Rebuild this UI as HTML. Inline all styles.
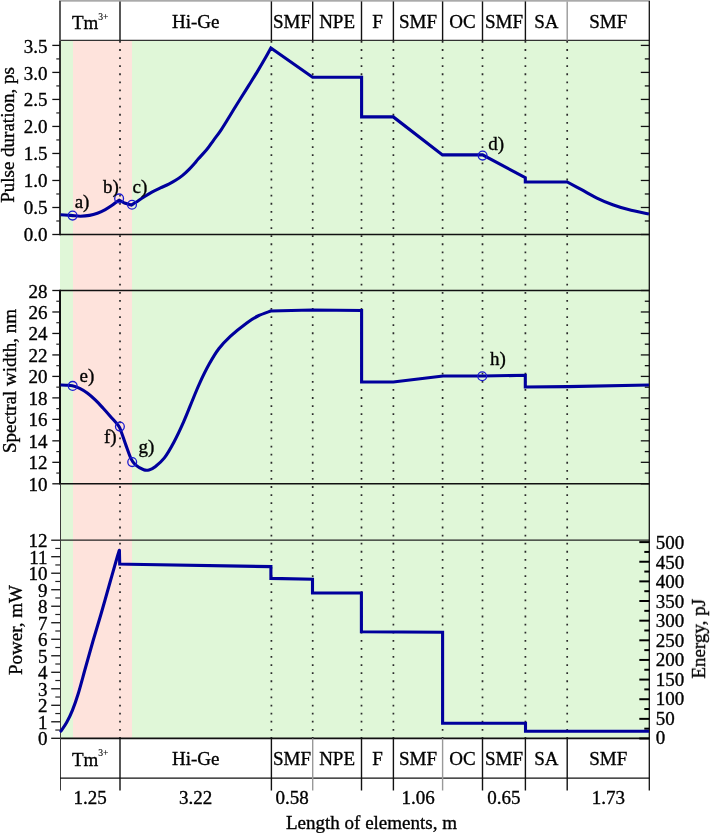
<!DOCTYPE html><html><head><meta charset="utf-8"><style>html,body{margin:0;padding:0;background:#fff;}svg{display:block;}text{font-family:"Liberation Serif", serif;fill:#000;stroke:#000;stroke-width:0.35px;}</style></head><body>
<svg width="710" height="833" viewBox="0 0 710 833">
<rect x="0" y="0" width="710" height="833" fill="#fff"/>
<rect x="60" y="40.4" width="589.30" height="697.90" fill="#e0f7d8"/>
<rect x="73" y="40.4" width="59" height="697.90" fill="#fee3dc"/>
<line x1="120.00" y1="41.00" x2="120.00" y2="738.00" stroke="#2a2a2a" stroke-width="1.7" stroke-dasharray="1.8 6.293"/>
<line x1="271.40" y1="41.00" x2="271.40" y2="738.00" stroke="#2a2a2a" stroke-width="1.7" stroke-dasharray="1.8 6.293"/>
<line x1="312.70" y1="41.00" x2="312.70" y2="738.00" stroke="#2a2a2a" stroke-width="1.7" stroke-dasharray="1.8 6.293"/>
<line x1="361.50" y1="41.00" x2="361.50" y2="738.00" stroke="#2a2a2a" stroke-width="1.7" stroke-dasharray="1.8 6.293"/>
<line x1="393.40" y1="41.00" x2="393.40" y2="738.00" stroke="#2a2a2a" stroke-width="1.7" stroke-dasharray="1.8 6.293"/>
<line x1="442.60" y1="41.00" x2="442.60" y2="738.00" stroke="#2a2a2a" stroke-width="1.7" stroke-dasharray="1.8 6.293"/>
<line x1="482.50" y1="41.00" x2="482.50" y2="738.00" stroke="#2a2a2a" stroke-width="1.7" stroke-dasharray="1.8 6.293"/>
<line x1="525.40" y1="41.00" x2="525.40" y2="738.00" stroke="#2a2a2a" stroke-width="1.7" stroke-dasharray="1.8 6.293"/>
<line x1="567.20" y1="41.00" x2="567.20" y2="738.00" stroke="#2a2a2a" stroke-width="1.7" stroke-dasharray="1.8 6.293"/>
<rect x="59" y="0" width="591" height="1.7" fill="#aaaaaa"/>
<line x1="60.50" y1="40.40" x2="649.30" y2="40.40" stroke="#333" stroke-width="1.1" />
<line x1="120.00" y1="1.40" x2="120.00" y2="40.40" stroke="#111" stroke-width="1.4" />
<line x1="271.40" y1="1.40" x2="271.40" y2="40.40" stroke="#111" stroke-width="1.4" />
<line x1="312.70" y1="1.40" x2="312.70" y2="40.40" stroke="#111" stroke-width="1.4" />
<line x1="361.50" y1="1.40" x2="361.50" y2="40.40" stroke="#111" stroke-width="1.4" />
<line x1="393.40" y1="1.40" x2="393.40" y2="40.40" stroke="#111" stroke-width="1.4" />
<line x1="442.60" y1="1.40" x2="442.60" y2="40.40" stroke="#111" stroke-width="1.4" />
<line x1="482.50" y1="1.40" x2="482.50" y2="40.40" stroke="#111" stroke-width="1.4" />
<line x1="525.40" y1="1.40" x2="525.40" y2="40.40" stroke="#111" stroke-width="1.4" />
<line x1="567.20" y1="1.40" x2="567.20" y2="40.40" stroke="#999" stroke-width="1.4" />
<line x1="60.00" y1="234.50" x2="649.30" y2="234.50" stroke="#111" stroke-width="1.7" />
<line x1="60.00" y1="290.50" x2="649.30" y2="290.50" stroke="#111" stroke-width="1.5" />
<line x1="60.00" y1="483.80" x2="649.30" y2="483.80" stroke="#111" stroke-width="1.6" />
<line x1="60.00" y1="540.20" x2="649.30" y2="540.20" stroke="#222" stroke-width="1.2" />
<line x1="60.00" y1="738.30" x2="649.30" y2="738.30" stroke="#111" stroke-width="1.8" />
<line x1="60.00" y1="1.00" x2="60.00" y2="40.40" stroke="#4a4a4a" stroke-width="1.8" />
<line x1="60.00" y1="40.40" x2="60.00" y2="235.30" stroke="#111" stroke-width="1.7" />
<line x1="60.00" y1="289.80" x2="60.00" y2="484.50" stroke="#111" stroke-width="2.0" />
<line x1="60.50" y1="483.80" x2="60.50" y2="790.50" stroke="#3c3c3c" stroke-width="1.0" />
<line x1="649.30" y1="1.00" x2="649.30" y2="790.50" stroke="#111" stroke-width="1.3" />
<line x1="60.00" y1="778.20" x2="649.30" y2="778.20" stroke="#111" stroke-width="1.3" />
<line x1="120.00" y1="738.30" x2="120.00" y2="790.50" stroke="#111" stroke-width="1.4" />
<line x1="271.40" y1="738.30" x2="271.40" y2="790.50" stroke="#111" stroke-width="1.4" />
<line x1="312.70" y1="738.30" x2="312.70" y2="790.50" stroke="#999" stroke-width="1.4" />
<line x1="361.50" y1="738.30" x2="361.50" y2="790.50" stroke="#111" stroke-width="1.4" />
<line x1="393.40" y1="738.30" x2="393.40" y2="790.50" stroke="#111" stroke-width="1.4" />
<line x1="442.60" y1="738.30" x2="442.60" y2="790.50" stroke="#999" stroke-width="1.4" />
<line x1="482.50" y1="738.30" x2="482.50" y2="790.50" stroke="#111" stroke-width="1.4" />
<line x1="525.40" y1="738.30" x2="525.40" y2="790.50" stroke="#111" stroke-width="1.4" />
<line x1="567.20" y1="738.30" x2="567.20" y2="790.50" stroke="#111" stroke-width="1.4" />
<line x1="52.30" y1="234.50" x2="60.00" y2="234.50" stroke="#111" stroke-width="1.3" />
<line x1="56.30" y1="220.99" x2="60.00" y2="220.99" stroke="#222" stroke-width="1.2" />
<line x1="52.30" y1="207.49" x2="60.00" y2="207.49" stroke="#111" stroke-width="1.3" />
<line x1="56.30" y1="193.98" x2="60.00" y2="193.98" stroke="#222" stroke-width="1.2" />
<line x1="52.30" y1="180.47" x2="60.00" y2="180.47" stroke="#111" stroke-width="1.3" />
<line x1="56.30" y1="166.96" x2="60.00" y2="166.96" stroke="#222" stroke-width="1.2" />
<line x1="52.30" y1="153.46" x2="60.00" y2="153.46" stroke="#111" stroke-width="1.3" />
<line x1="56.30" y1="139.95" x2="60.00" y2="139.95" stroke="#222" stroke-width="1.2" />
<line x1="52.30" y1="126.44" x2="60.00" y2="126.44" stroke="#111" stroke-width="1.3" />
<line x1="56.30" y1="112.94" x2="60.00" y2="112.94" stroke="#222" stroke-width="1.2" />
<line x1="52.30" y1="99.43" x2="60.00" y2="99.43" stroke="#111" stroke-width="1.3" />
<line x1="56.30" y1="85.92" x2="60.00" y2="85.92" stroke="#222" stroke-width="1.2" />
<line x1="52.30" y1="72.41" x2="60.00" y2="72.41" stroke="#111" stroke-width="1.3" />
<line x1="56.30" y1="58.91" x2="60.00" y2="58.91" stroke="#222" stroke-width="1.2" />
<line x1="52.30" y1="45.40" x2="60.00" y2="45.40" stroke="#111" stroke-width="1.3" />
<line x1="640.80" y1="234.50" x2="649.30" y2="234.50" stroke="#111" stroke-width="1.3" />
<line x1="644.80" y1="220.99" x2="649.30" y2="220.99" stroke="#111" stroke-width="1.3" />
<line x1="640.80" y1="207.49" x2="649.30" y2="207.49" stroke="#111" stroke-width="1.3" />
<line x1="644.80" y1="193.98" x2="649.30" y2="193.98" stroke="#111" stroke-width="1.3" />
<line x1="640.80" y1="180.47" x2="649.30" y2="180.47" stroke="#111" stroke-width="1.3" />
<line x1="644.80" y1="166.96" x2="649.30" y2="166.96" stroke="#111" stroke-width="1.3" />
<line x1="640.80" y1="153.46" x2="649.30" y2="153.46" stroke="#111" stroke-width="1.3" />
<line x1="644.80" y1="139.95" x2="649.30" y2="139.95" stroke="#111" stroke-width="1.3" />
<line x1="640.80" y1="126.44" x2="649.30" y2="126.44" stroke="#111" stroke-width="1.3" />
<line x1="644.80" y1="112.94" x2="649.30" y2="112.94" stroke="#111" stroke-width="1.3" />
<line x1="640.80" y1="99.43" x2="649.30" y2="99.43" stroke="#111" stroke-width="1.3" />
<line x1="644.80" y1="85.92" x2="649.30" y2="85.92" stroke="#111" stroke-width="1.3" />
<line x1="640.80" y1="72.41" x2="649.30" y2="72.41" stroke="#111" stroke-width="1.3" />
<line x1="644.80" y1="58.91" x2="649.30" y2="58.91" stroke="#111" stroke-width="1.3" />
<line x1="640.80" y1="45.40" x2="649.30" y2="45.40" stroke="#111" stroke-width="1.3" />
<line x1="52.30" y1="483.80" x2="60.00" y2="483.80" stroke="#111" stroke-width="1.3" />
<line x1="56.30" y1="473.06" x2="60.00" y2="473.06" stroke="#222" stroke-width="1.2" />
<line x1="52.30" y1="462.32" x2="60.00" y2="462.32" stroke="#111" stroke-width="1.3" />
<line x1="56.30" y1="451.58" x2="60.00" y2="451.58" stroke="#222" stroke-width="1.2" />
<line x1="52.30" y1="440.84" x2="60.00" y2="440.84" stroke="#111" stroke-width="1.3" />
<line x1="56.30" y1="430.11" x2="60.00" y2="430.11" stroke="#222" stroke-width="1.2" />
<line x1="52.30" y1="419.37" x2="60.00" y2="419.37" stroke="#111" stroke-width="1.3" />
<line x1="56.30" y1="408.63" x2="60.00" y2="408.63" stroke="#222" stroke-width="1.2" />
<line x1="52.30" y1="397.89" x2="60.00" y2="397.89" stroke="#111" stroke-width="1.3" />
<line x1="56.30" y1="387.15" x2="60.00" y2="387.15" stroke="#222" stroke-width="1.2" />
<line x1="52.30" y1="376.41" x2="60.00" y2="376.41" stroke="#111" stroke-width="1.3" />
<line x1="56.30" y1="365.67" x2="60.00" y2="365.67" stroke="#222" stroke-width="1.2" />
<line x1="52.30" y1="354.93" x2="60.00" y2="354.93" stroke="#111" stroke-width="1.3" />
<line x1="56.30" y1="344.19" x2="60.00" y2="344.19" stroke="#222" stroke-width="1.2" />
<line x1="52.30" y1="333.46" x2="60.00" y2="333.46" stroke="#111" stroke-width="1.3" />
<line x1="56.30" y1="322.72" x2="60.00" y2="322.72" stroke="#222" stroke-width="1.2" />
<line x1="52.30" y1="311.98" x2="60.00" y2="311.98" stroke="#111" stroke-width="1.3" />
<line x1="56.30" y1="301.24" x2="60.00" y2="301.24" stroke="#222" stroke-width="1.2" />
<line x1="52.30" y1="290.50" x2="60.00" y2="290.50" stroke="#111" stroke-width="1.3" />
<line x1="640.80" y1="483.80" x2="649.30" y2="483.80" stroke="#111" stroke-width="1.3" />
<line x1="644.80" y1="473.06" x2="649.30" y2="473.06" stroke="#111" stroke-width="1.3" />
<line x1="640.80" y1="462.32" x2="649.30" y2="462.32" stroke="#111" stroke-width="1.3" />
<line x1="644.80" y1="451.58" x2="649.30" y2="451.58" stroke="#111" stroke-width="1.3" />
<line x1="640.80" y1="440.84" x2="649.30" y2="440.84" stroke="#111" stroke-width="1.3" />
<line x1="644.80" y1="430.11" x2="649.30" y2="430.11" stroke="#111" stroke-width="1.3" />
<line x1="640.80" y1="419.37" x2="649.30" y2="419.37" stroke="#111" stroke-width="1.3" />
<line x1="644.80" y1="408.63" x2="649.30" y2="408.63" stroke="#111" stroke-width="1.3" />
<line x1="640.80" y1="397.89" x2="649.30" y2="397.89" stroke="#111" stroke-width="1.3" />
<line x1="644.80" y1="387.15" x2="649.30" y2="387.15" stroke="#111" stroke-width="1.3" />
<line x1="640.80" y1="376.41" x2="649.30" y2="376.41" stroke="#111" stroke-width="1.3" />
<line x1="644.80" y1="365.67" x2="649.30" y2="365.67" stroke="#111" stroke-width="1.3" />
<line x1="640.80" y1="354.93" x2="649.30" y2="354.93" stroke="#111" stroke-width="1.3" />
<line x1="644.80" y1="344.19" x2="649.30" y2="344.19" stroke="#111" stroke-width="1.3" />
<line x1="640.80" y1="333.46" x2="649.30" y2="333.46" stroke="#111" stroke-width="1.3" />
<line x1="644.80" y1="322.72" x2="649.30" y2="322.72" stroke="#111" stroke-width="1.3" />
<line x1="640.80" y1="311.98" x2="649.30" y2="311.98" stroke="#111" stroke-width="1.3" />
<line x1="644.80" y1="301.24" x2="649.30" y2="301.24" stroke="#111" stroke-width="1.3" />
<line x1="640.80" y1="290.50" x2="649.30" y2="290.50" stroke="#111" stroke-width="1.3" />
<line x1="51.20" y1="738.30" x2="60.00" y2="738.30" stroke="#111" stroke-width="1.3" />
<line x1="55.30" y1="730.05" x2="60.00" y2="730.05" stroke="#222" stroke-width="1.2" />
<line x1="51.20" y1="721.79" x2="60.00" y2="721.79" stroke="#111" stroke-width="1.3" />
<line x1="55.30" y1="713.54" x2="60.00" y2="713.54" stroke="#222" stroke-width="1.2" />
<line x1="51.20" y1="705.28" x2="60.00" y2="705.28" stroke="#111" stroke-width="1.3" />
<line x1="55.30" y1="697.03" x2="60.00" y2="697.03" stroke="#222" stroke-width="1.2" />
<line x1="51.20" y1="688.77" x2="60.00" y2="688.77" stroke="#111" stroke-width="1.3" />
<line x1="55.30" y1="680.52" x2="60.00" y2="680.52" stroke="#222" stroke-width="1.2" />
<line x1="51.20" y1="672.27" x2="60.00" y2="672.27" stroke="#111" stroke-width="1.3" />
<line x1="55.30" y1="664.01" x2="60.00" y2="664.01" stroke="#222" stroke-width="1.2" />
<line x1="51.20" y1="655.76" x2="60.00" y2="655.76" stroke="#111" stroke-width="1.3" />
<line x1="55.30" y1="647.50" x2="60.00" y2="647.50" stroke="#222" stroke-width="1.2" />
<line x1="51.20" y1="639.25" x2="60.00" y2="639.25" stroke="#111" stroke-width="1.3" />
<line x1="55.30" y1="631.00" x2="60.00" y2="631.00" stroke="#222" stroke-width="1.2" />
<line x1="51.20" y1="622.74" x2="60.00" y2="622.74" stroke="#111" stroke-width="1.3" />
<line x1="55.30" y1="614.49" x2="60.00" y2="614.49" stroke="#222" stroke-width="1.2" />
<line x1="51.20" y1="606.23" x2="60.00" y2="606.23" stroke="#111" stroke-width="1.3" />
<line x1="55.30" y1="597.98" x2="60.00" y2="597.98" stroke="#222" stroke-width="1.2" />
<line x1="51.20" y1="589.73" x2="60.00" y2="589.73" stroke="#111" stroke-width="1.3" />
<line x1="55.30" y1="581.47" x2="60.00" y2="581.47" stroke="#222" stroke-width="1.2" />
<line x1="51.20" y1="573.22" x2="60.00" y2="573.22" stroke="#111" stroke-width="1.3" />
<line x1="55.30" y1="564.96" x2="60.00" y2="564.96" stroke="#222" stroke-width="1.2" />
<line x1="51.20" y1="556.71" x2="60.00" y2="556.71" stroke="#111" stroke-width="1.3" />
<line x1="55.30" y1="548.45" x2="60.00" y2="548.45" stroke="#222" stroke-width="1.2" />
<line x1="51.20" y1="540.20" x2="60.00" y2="540.20" stroke="#111" stroke-width="1.3" />
<line x1="639.30" y1="738.50" x2="649.30" y2="738.50" stroke="#000" stroke-width="2.0" />
<line x1="644.30" y1="728.68" x2="649.30" y2="728.68" stroke="#000" stroke-width="2.0" />
<line x1="639.30" y1="718.86" x2="649.30" y2="718.86" stroke="#000" stroke-width="2.0" />
<line x1="644.30" y1="709.04" x2="649.30" y2="709.04" stroke="#000" stroke-width="2.0" />
<line x1="639.30" y1="699.22" x2="649.30" y2="699.22" stroke="#000" stroke-width="2.0" />
<line x1="644.30" y1="689.40" x2="649.30" y2="689.40" stroke="#000" stroke-width="2.0" />
<line x1="639.30" y1="679.58" x2="649.30" y2="679.58" stroke="#000" stroke-width="2.0" />
<line x1="644.30" y1="669.76" x2="649.30" y2="669.76" stroke="#000" stroke-width="2.0" />
<line x1="639.30" y1="659.94" x2="649.30" y2="659.94" stroke="#000" stroke-width="2.0" />
<line x1="644.30" y1="650.12" x2="649.30" y2="650.12" stroke="#000" stroke-width="2.0" />
<line x1="639.30" y1="640.30" x2="649.30" y2="640.30" stroke="#000" stroke-width="2.0" />
<line x1="644.30" y1="630.48" x2="649.30" y2="630.48" stroke="#000" stroke-width="2.0" />
<line x1="639.30" y1="620.66" x2="649.30" y2="620.66" stroke="#000" stroke-width="2.0" />
<line x1="644.30" y1="610.84" x2="649.30" y2="610.84" stroke="#000" stroke-width="2.0" />
<line x1="639.30" y1="601.02" x2="649.30" y2="601.02" stroke="#000" stroke-width="2.0" />
<line x1="644.30" y1="591.20" x2="649.30" y2="591.20" stroke="#000" stroke-width="2.0" />
<line x1="639.30" y1="581.38" x2="649.30" y2="581.38" stroke="#000" stroke-width="2.0" />
<line x1="644.30" y1="571.56" x2="649.30" y2="571.56" stroke="#000" stroke-width="2.0" />
<line x1="639.30" y1="561.74" x2="649.30" y2="561.74" stroke="#000" stroke-width="2.0" />
<line x1="644.30" y1="551.92" x2="649.30" y2="551.92" stroke="#000" stroke-width="2.0" />
<line x1="639.30" y1="542.10" x2="649.30" y2="542.10" stroke="#000" stroke-width="2.0" />
<path d="M60.50,214.70 C61.77,214.78 66.08,215.05 68.10,215.20 C70.12,215.35 70.53,215.43 72.60,215.60 C74.67,215.77 77.68,216.23 80.50,216.20 C83.32,216.17 86.68,215.90 89.50,215.40 C92.32,214.90 94.77,214.17 97.40,213.20 C100.03,212.23 102.85,210.92 105.30,209.60 C107.75,208.28 110.12,206.67 112.10,205.30 C114.08,203.93 116.00,202.25 117.20,201.40 C118.40,200.55 118.95,200.40 119.30,200.20 L124.50,203.00 L131.30,205.10 C132.05,204.63 133.77,203.62 135.80,202.30 C137.83,200.98 140.82,198.90 143.50,197.20 C146.18,195.50 149.08,193.65 151.90,192.10 C154.72,190.55 157.58,189.23 160.40,187.90 C163.22,186.57 166.27,185.37 168.80,184.10 C171.33,182.83 173.35,181.72 175.60,180.30 C177.85,178.88 180.05,177.43 182.30,175.60 C184.55,173.77 187.12,171.27 189.10,169.30 C191.08,167.33 192.65,165.55 194.20,163.80 C195.75,162.05 196.30,161.17 198.40,158.80 C200.50,156.43 204.28,152.68 206.80,149.60 C209.32,146.52 211.25,143.38 213.50,140.30 C215.75,137.22 218.05,134.40 220.30,131.10 C222.55,127.80 224.77,124.10 227.00,120.50 C229.23,116.90 231.47,113.12 233.70,109.50 C235.93,105.88 237.88,102.82 240.40,98.80 C242.92,94.78 246.00,89.88 248.80,85.40 C251.60,80.92 254.40,76.53 257.20,71.90 C260.00,67.27 263.32,61.58 265.60,57.60 C267.88,53.62 270.02,49.60 270.90,48.00 L312.60,77.20 L361.60,77.20 L361.60,116.90 L393.30,116.90 L442.50,154.90 L482.60,154.90 L525.30,177.60 L525.30,182.00 L567.20,182.00 C569.52,183.23 576.15,186.72 581.10,189.40 C586.05,192.08 591.63,195.53 596.90,198.10 C602.17,200.67 607.45,202.88 612.70,204.80 C617.95,206.72 622.35,208.07 628.40,209.60 C634.45,211.13 645.57,213.27 649.00,214.00" fill="none" stroke="#00009c" stroke-width="3.1" stroke-linejoin="miter" stroke-miterlimit="10"/>
<path d="M60.50,385.00 C61.42,385.03 64.03,385.07 66.00,385.20 C67.97,385.33 70.02,385.28 72.30,385.80 C74.58,386.32 77.15,387.07 79.70,388.30 C82.25,389.53 84.97,391.23 87.60,393.20 C90.23,395.17 92.87,397.55 95.50,400.10 C98.13,402.65 100.77,405.62 103.40,408.50 C106.03,411.38 108.77,414.50 111.30,417.40 C113.83,420.30 116.92,423.43 118.60,425.90 C120.28,428.37 120.18,429.00 121.40,432.20 C122.62,435.40 124.28,440.65 125.90,445.10 C127.52,449.55 129.50,455.60 131.10,458.90 C132.70,462.20 133.40,463.08 135.50,464.90 C137.60,466.72 141.45,468.95 143.70,469.80 C145.95,470.65 147.15,470.47 149.00,470.00 C150.85,469.53 152.23,469.02 154.80,467.00 C157.37,464.98 161.20,462.07 164.40,457.90 C167.60,453.73 170.80,448.00 174.00,442.00 C177.20,436.00 180.47,428.98 183.60,421.90 C186.73,414.82 190.13,405.93 192.80,399.50 C195.47,393.07 196.87,389.20 199.60,383.30 C202.33,377.40 206.00,369.85 209.20,364.10 C212.40,358.35 215.28,353.43 218.80,348.80 C222.32,344.17 225.63,340.62 230.30,336.30 C234.97,331.98 242.20,326.28 246.80,322.90 C251.40,319.52 253.88,317.98 257.90,316.00 C261.92,314.02 268.73,311.83 270.90,311.00 L312.00,310.00 L361.60,310.50 L361.60,382.00 L393.30,382.00 L443.00,376.00 L482.50,376.00 L525.30,375.30 L525.30,387.00 L567.20,386.60 L649.00,385.00" fill="none" stroke="#00009c" stroke-width="3.1" stroke-linejoin="miter" stroke-miterlimit="10"/>
<path d="M60.90,731.20 C61.85,729.75 64.68,725.98 66.60,722.50 C68.52,719.02 70.47,715.10 72.40,710.30 C74.33,705.50 76.03,700.75 78.20,693.70 C80.37,686.65 82.93,676.78 85.40,668.00 C87.87,659.22 90.30,650.33 93.00,641.00 C95.70,631.67 98.75,621.83 101.60,612.00 C104.45,602.17 107.48,591.20 110.10,582.00 C112.72,572.80 115.75,562.08 117.30,556.80 C118.85,551.52 119.05,551.38 119.40,550.30" fill="none" stroke="#00009c" stroke-width="3.1" stroke-linecap="round"/>
<path d="M119.40,550.30 L119.70,564.00 L128.70,564.30 L270.90,566.60 L270.90,578.40 L312.50,579.20 L312.50,593.00 L361.40,593.00 L361.40,631.70 L442.60,632.30 L442.60,723.30 L525.50,723.30 L525.50,731.30 L649.00,731.30" fill="none" stroke="#00009c" stroke-width="3.1" stroke-linejoin="miter" stroke-miterlimit="10"/>
<circle cx="72.6" cy="215.6" r="4.4" fill="none" stroke="#1a1ad0" stroke-width="1.3"/>
<circle cx="119.1" cy="198.4" r="4.4" fill="none" stroke="#1a1ad0" stroke-width="1.3"/>
<circle cx="132.0" cy="204.8" r="4.4" fill="none" stroke="#1a1ad0" stroke-width="1.3"/>
<circle cx="482.6" cy="155.6" r="4.4" fill="none" stroke="#1a1ad0" stroke-width="1.3"/>
<circle cx="72.7" cy="385.9" r="4.4" fill="none" stroke="#1a1ad0" stroke-width="1.3"/>
<circle cx="119.9" cy="426.6" r="4.4" fill="none" stroke="#1a1ad0" stroke-width="1.3"/>
<circle cx="132.2" cy="462.1" r="4.4" fill="none" stroke="#1a1ad0" stroke-width="1.3"/>
<circle cx="482.2" cy="376.3" r="4.4" fill="none" stroke="#1a1ad0" stroke-width="1.3"/>
<g opacity="0.999">
<text x="47.50" y="240.79" font-size="19" text-anchor="end" >0.0</text>
<text x="47.50" y="213.92" font-size="19" text-anchor="end" >0.5</text>
<text x="47.50" y="187.05" font-size="19" text-anchor="end" >1.0</text>
<text x="47.50" y="160.18" font-size="19" text-anchor="end" >1.5</text>
<text x="47.50" y="133.31" font-size="19" text-anchor="end" >2.0</text>
<text x="47.50" y="106.44" font-size="19" text-anchor="end" >2.5</text>
<text x="47.50" y="79.57" font-size="19" text-anchor="end" >3.0</text>
<text x="47.50" y="52.70" font-size="19" text-anchor="end" >3.5</text>
<text x="47.50" y="490.80" font-size="19" text-anchor="end" >10</text>
<text x="47.50" y="469.32" font-size="19" text-anchor="end" >12</text>
<text x="47.50" y="447.84" font-size="19" text-anchor="end" >14</text>
<text x="47.50" y="426.37" font-size="19" text-anchor="end" >16</text>
<text x="47.50" y="404.89" font-size="19" text-anchor="end" >18</text>
<text x="47.50" y="383.41" font-size="19" text-anchor="end" >20</text>
<text x="47.50" y="361.93" font-size="19" text-anchor="end" >22</text>
<text x="47.50" y="340.46" font-size="19" text-anchor="end" >24</text>
<text x="47.50" y="318.98" font-size="19" text-anchor="end" >26</text>
<text x="47.50" y="297.50" font-size="19" text-anchor="end" >28</text>
<text x="47.50" y="745.30" font-size="19" text-anchor="end" >0</text>
<text x="47.50" y="728.79" font-size="19" text-anchor="end" >1</text>
<text x="47.50" y="712.28" font-size="19" text-anchor="end" >2</text>
<text x="47.50" y="695.77" font-size="19" text-anchor="end" >3</text>
<text x="47.50" y="679.27" font-size="19" text-anchor="end" >4</text>
<text x="47.50" y="662.76" font-size="19" text-anchor="end" >5</text>
<text x="47.50" y="646.25" font-size="19" text-anchor="end" >6</text>
<text x="47.50" y="629.74" font-size="19" text-anchor="end" >7</text>
<text x="47.50" y="613.23" font-size="19" text-anchor="end" >8</text>
<text x="47.50" y="596.73" font-size="19" text-anchor="end" >9</text>
<text x="47.50" y="580.22" font-size="19" text-anchor="end" >10</text>
<text x="47.50" y="563.71" font-size="19" text-anchor="end" >11</text>
<text x="47.50" y="547.20" font-size="19" text-anchor="end" >12</text>
<text x="655.80" y="744.30" font-size="19" text-anchor="start" >0</text>
<text x="655.80" y="724.81" font-size="19" text-anchor="start" >50</text>
<text x="655.80" y="705.32" font-size="19" text-anchor="start" >100</text>
<text x="655.80" y="685.83" font-size="19" text-anchor="start" >150</text>
<text x="655.80" y="666.34" font-size="19" text-anchor="start" >200</text>
<text x="655.80" y="646.85" font-size="19" text-anchor="start" >250</text>
<text x="655.80" y="627.36" font-size="19" text-anchor="start" >300</text>
<text x="655.80" y="607.87" font-size="19" text-anchor="start" >350</text>
<text x="655.80" y="588.38" font-size="19" text-anchor="start" >400</text>
<text x="655.80" y="568.89" font-size="19" text-anchor="start" >450</text>
<text x="655.80" y="549.40" font-size="19" text-anchor="start" >500</text>
<text x="71.90" y="29.30" font-size="19" text-anchor="start" >Tm</text>
<text x="98.20" y="19.70" font-size="9.6" text-anchor="start" style="stroke-width:0.15px">3+</text>
<text x="195.70" y="27.90" font-size="19" text-anchor="middle" >Hi-Ge</text>
<text x="292.05" y="27.90" font-size="19" text-anchor="middle" >SMF</text>
<text x="337.10" y="27.90" font-size="19" text-anchor="middle" >NPE</text>
<text x="377.45" y="27.90" font-size="19" text-anchor="middle" >F</text>
<text x="418.00" y="27.90" font-size="19" text-anchor="middle" >SMF</text>
<text x="462.55" y="27.90" font-size="19" text-anchor="middle" >OC</text>
<text x="503.95" y="27.90" font-size="19" text-anchor="middle" >SMF</text>
<text x="546.30" y="27.90" font-size="19" text-anchor="middle" >SA</text>
<text x="608.25" y="27.90" font-size="19" text-anchor="middle" >SMF</text>
<text x="71.90" y="766.00" font-size="19" text-anchor="start" >Tm</text>
<text x="98.20" y="756.40" font-size="9.6" text-anchor="start" style="stroke-width:0.15px">3+</text>
<text x="195.70" y="764.60" font-size="19" text-anchor="middle" >Hi-Ge</text>
<text x="292.05" y="764.60" font-size="19" text-anchor="middle" >SMF</text>
<text x="337.10" y="764.60" font-size="19" text-anchor="middle" >NPE</text>
<text x="377.45" y="764.60" font-size="19" text-anchor="middle" >F</text>
<text x="418.00" y="764.60" font-size="19" text-anchor="middle" >SMF</text>
<text x="462.55" y="764.60" font-size="19" text-anchor="middle" >OC</text>
<text x="503.95" y="764.60" font-size="19" text-anchor="middle" >SMF</text>
<text x="546.30" y="764.60" font-size="19" text-anchor="middle" >SA</text>
<text x="608.25" y="764.60" font-size="19" text-anchor="middle" >SMF</text>
<text x="90.00" y="803.60" font-size="19" text-anchor="middle" >1.25</text>
<text x="195.70" y="803.60" font-size="19" text-anchor="middle" >3.22</text>
<text x="292.05" y="803.60" font-size="19" text-anchor="middle" >0.58</text>
<text x="418.00" y="803.60" font-size="19" text-anchor="middle" >1.06</text>
<text x="503.95" y="803.60" font-size="19" text-anchor="middle" >0.65</text>
<text x="608.25" y="803.60" font-size="19" text-anchor="middle" >1.73</text>
<text x="286.00" y="828.60" font-size="19" text-anchor="start" >Length of elements, m</text>
<text x="0" y="0" font-size="19" text-anchor="middle" transform="translate(13.60,135.00) rotate(-90)">Pulse duration, ps</text>
<text x="0" y="0" font-size="19" text-anchor="middle" transform="translate(16.00,381.00) rotate(-90)">Spectral width, nm</text>
<text x="0" y="0" font-size="19" text-anchor="middle" transform="translate(22.30,630.00) rotate(-90)">Power, mW</text>
<text x="0" y="0" font-size="19" text-anchor="middle" transform="translate(705.00,638.80) rotate(-90)">Energy, pJ</text>
<text x="74.70" y="207.70" font-size="19" text-anchor="start" >a)</text>
<text x="103.00" y="192.60" font-size="19" text-anchor="start" >b)</text>
<text x="132.60" y="192.60" font-size="19" text-anchor="start" >c)</text>
<text x="488.30" y="149.90" font-size="19" text-anchor="start" >d)</text>
<text x="79.50" y="381.50" font-size="19" text-anchor="start" >e)</text>
<text x="104.00" y="442.50" font-size="19" text-anchor="start" >f)</text>
<text x="138.60" y="452.50" font-size="19" text-anchor="start" >g)</text>
<text x="490.00" y="365.20" font-size="19" text-anchor="start" >h)</text>
</g>
</svg></body></html>
